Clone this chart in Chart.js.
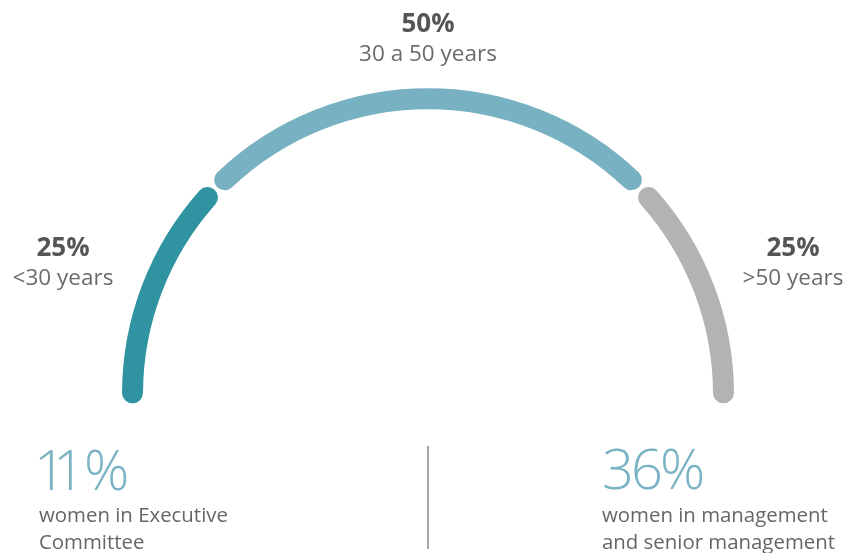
<!DOCTYPE html>
<html lang="en">
<head>
  <meta charset="UTF-8">
  <title>Age groups</title>
  <script src="https://cdn.jsdelivr.net/npm/chart.js"></script>
  <style>
    html, body { margin: 0; padding: 0; background: #fff; }
    body { width: 845px; height: 553px; position: relative; overflow: hidden; font-family: "Open Sans", "Noto Sans", sans-serif; }
    #wrap { position: absolute; left: 0; top: 0; width: 845px; height: 553px; }
    .lbl { position: absolute; line-height: 1; white-space: nowrap; text-align: center; }
    .pct { font-weight: 700; font-size: 26px; color: #555; }
    .cat { font-size: 22.5px; color: #6b6b6b; font-weight: 400; }
    .big { position: absolute; font-size: 56px; font-weight: 300; color: #79b3c4; line-height: 1; white-space: nowrap; }
    .note { position: absolute; font-size: 20.4px; color: #666; line-height: 26.7px; white-space: nowrap; }
    #divider { position: absolute; left: 427px; top: 446px; width: 2px; height: 103px; background: #a6a6a6; }
  </style>
</head>
<body>
  <div id="wrap"><canvas id="gauge"></canvas></div>

  <div id="labels"></div>

  <div class="big" style="left:34px; top:440px;"><span style="letter-spacing:-13px">1</span><span style="letter-spacing:-1px">1</span>%</div>
  <div class="note" style="left:39px; top:501px;">women in Executive<br>Committee</div>
  <div id="divider"></div>
  <div class="big" style="left:602px; top:439px; letter-spacing:-3px;">36%</div>
  <div class="note" style="left:602px; top:501px;">women in management<br>and senior management</div>

  <script>
    // data
    const categories = ['<30 years', '30 a 50 years', '>50 years'];
    const shares = [25, 50, 25];
    const colors = ['#3093a1', '#78b1c1', '#b3b3b3'];

    // label anchors (centre x, top y of the percentage line)
    const labelPos = [
      { x: 63, y: 233 },
      { x: 428, y: 9 },
      { x: 793, y: 233 }
    ];

    const labels = document.getElementById('labels');
    categories.forEach((c, i) => {
      const p = document.createElement('div');
      p.className = 'lbl pct';
      p.style.left = (labelPos[i].x - 100) + 'px';
      p.style.width = '200px';
      p.style.top = labelPos[i].y + 'px';
      p.textContent = shares[i] + '%';
      labels.appendChild(p);
      const t = document.createElement('div');
      t.className = 'lbl cat';
      t.style.left = (labelPos[i].x - 100) + 'px';
      t.style.width = '200px';
      t.style.top = (labelPos[i].y + 33) + 'px';
      t.textContent = c;
      labels.appendChild(t);
    });

    new Chart(document.getElementById('gauge'), {
      type: 'doughnut',
      data: {
        labels: categories,
        datasets: [{
          data: shares,
          backgroundColor: colors,
          borderWidth: 0,
          borderRadius: 20,
          spacing: 6
        }]
      },
      options: {
        responsive: true,
        maintainAspectRatio: false,
        animation: false,
        rotation: -92,
        circumference: 184,
        radius: 303,
        cutout: '93.07%',
        layout: { padding: { left: 11, bottom: 57 } },
        plugins: { legend: { display: false }, tooltip: { enabled: false } }
      }
    });
  </script>
</body>
</html>
